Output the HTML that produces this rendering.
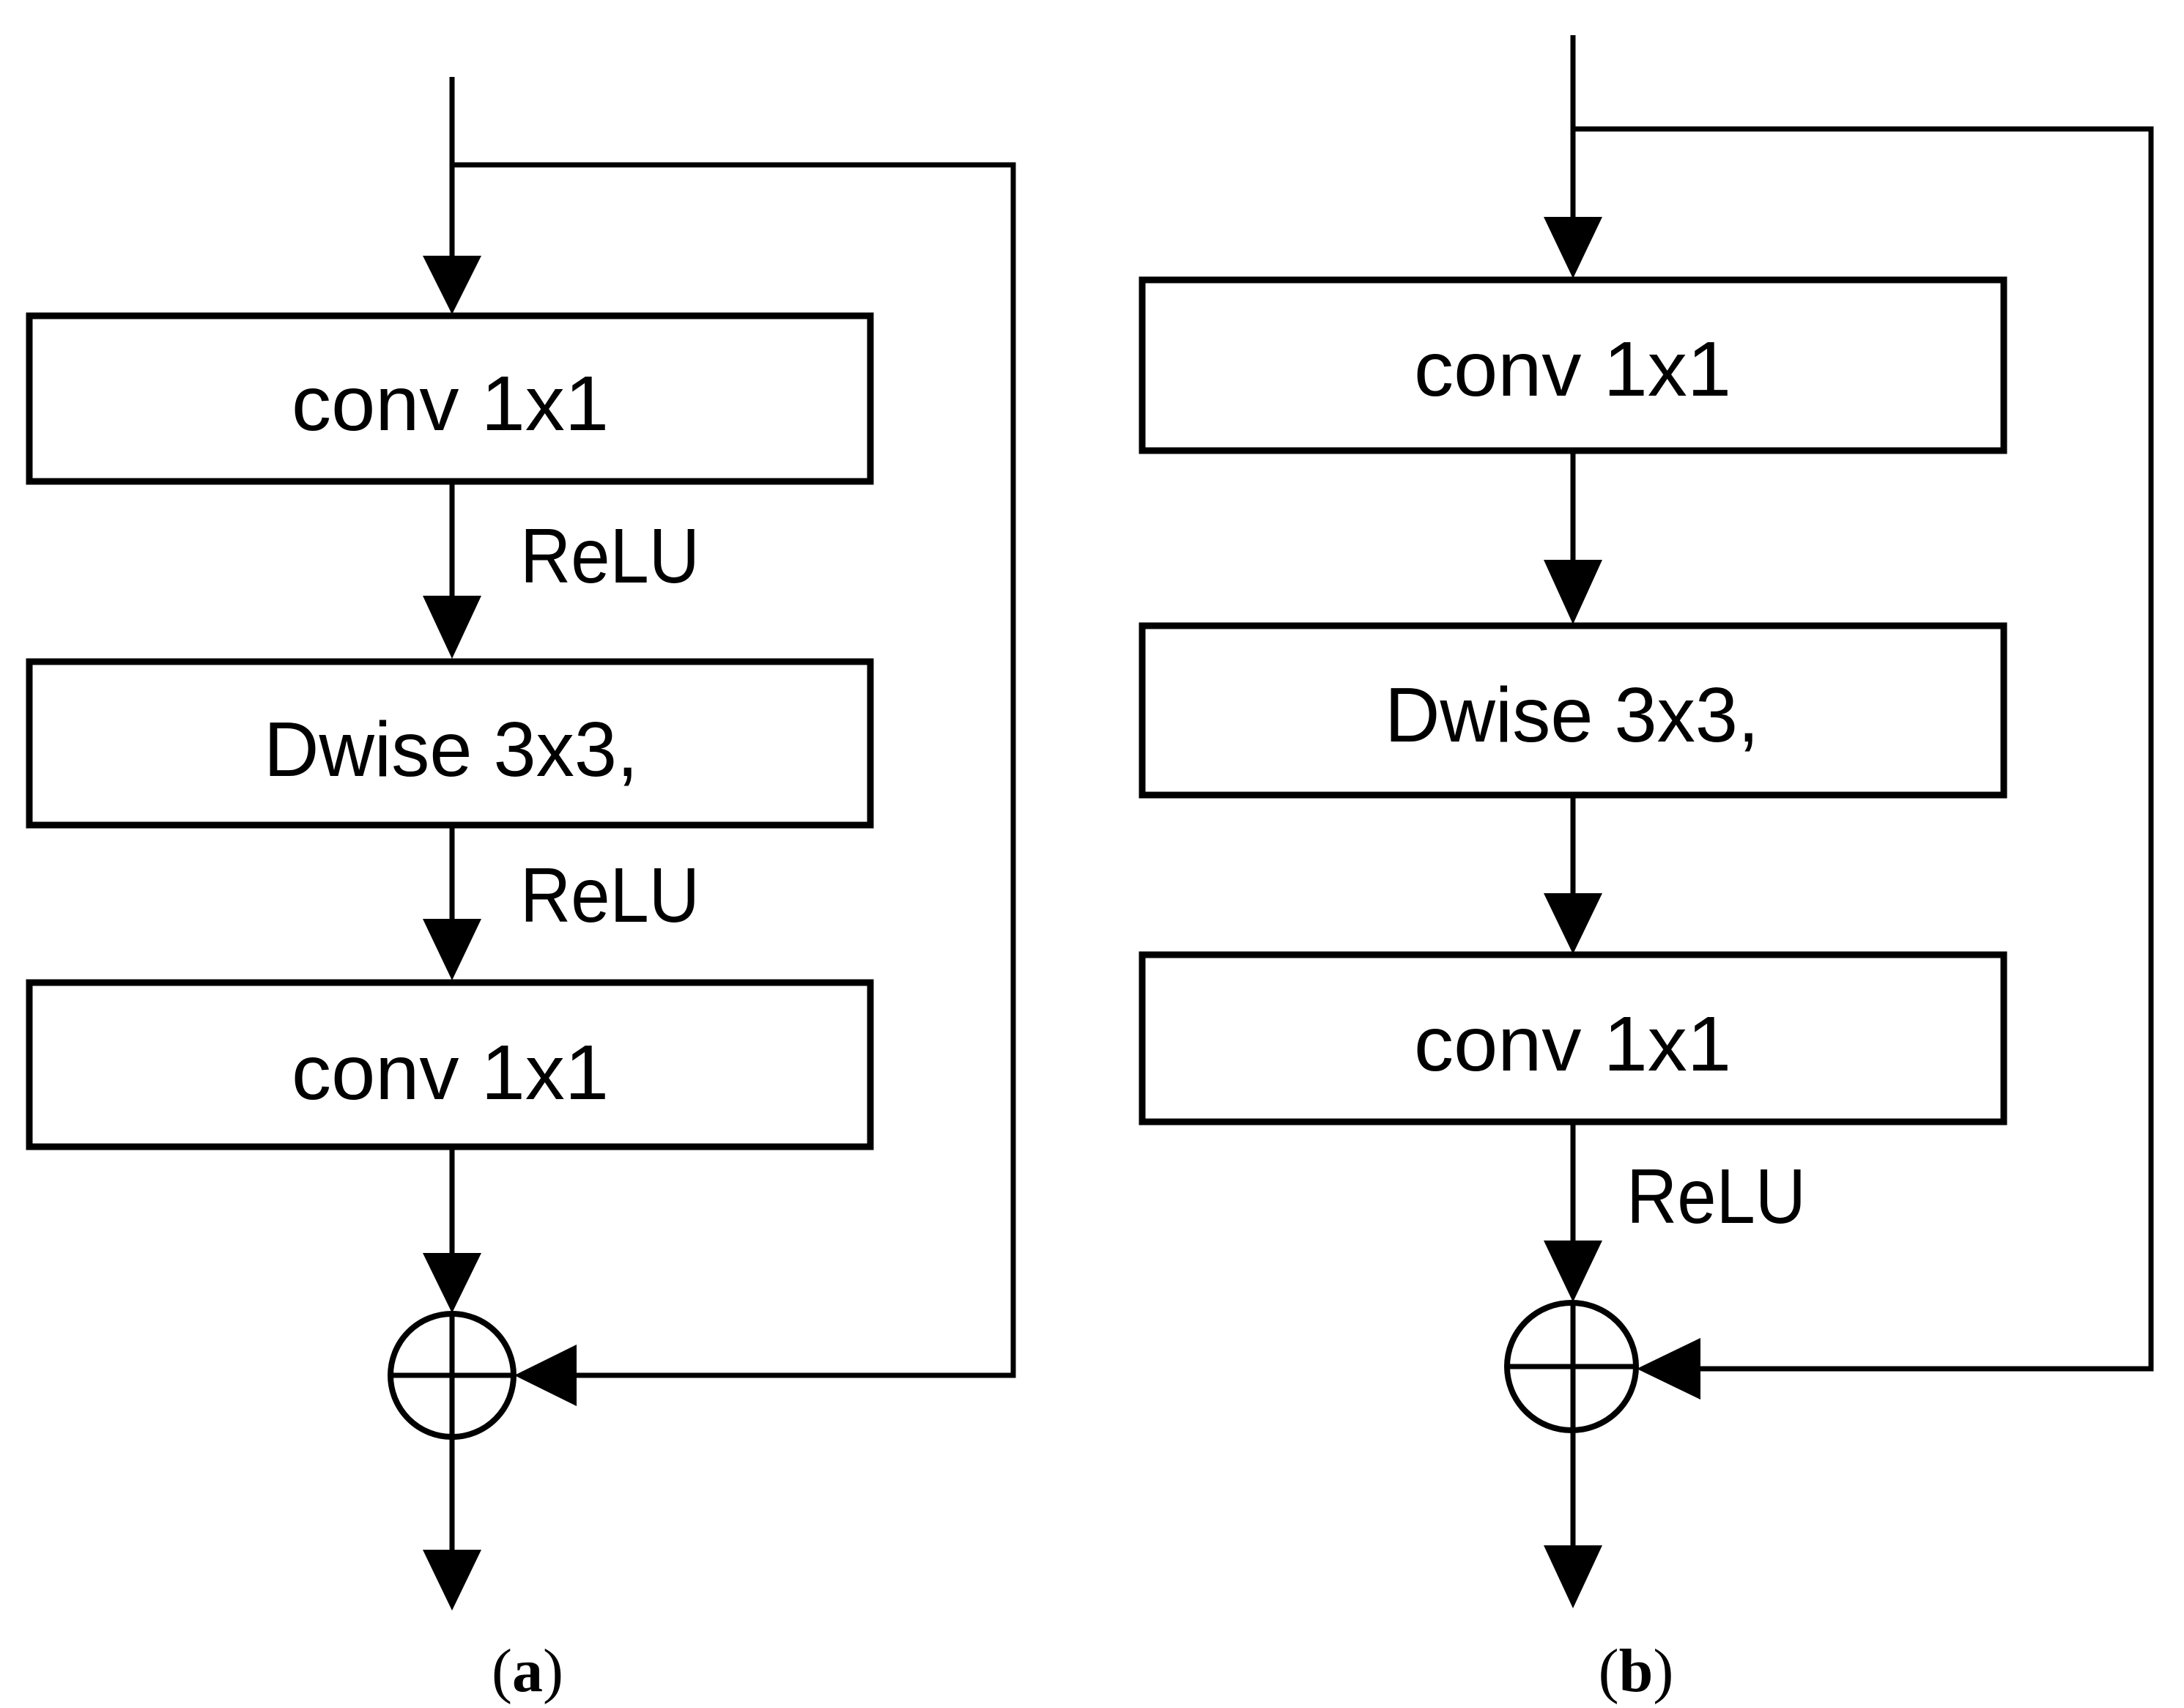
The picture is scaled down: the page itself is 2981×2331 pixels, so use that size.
<!DOCTYPE html>
<html><head><meta charset="utf-8"><style>html,body{margin:0;padding:0;background:#fff}svg{display:block}</style></head>
<body>
<svg width="2981" height="2331" viewBox="0 0 2981 2331" xmlns="http://www.w3.org/2000/svg">
<g stroke="#000" fill="none">
<!-- (a) -->
<path d="M617 105 V360 M617 225 H1383 V1877 H780" stroke-width="7"/>
<path d="M617 657 V830 M617 1126 V1270 M617 1565 V1720 M617 1961 V2130" stroke-width="7"/>
<rect x="40" y="431" width="1148" height="226" stroke-width="9"/>
<rect x="40" y="903" width="1148" height="223" stroke-width="9"/>
<rect x="40" y="1341" width="1148" height="224" stroke-width="9"/>
<ellipse cx="617" cy="1877" rx="84" ry="84" stroke-width="8"/>
<path d="M533 1877 H701 M617 1793 V1961" stroke-width="7"/>
<!-- (b) -->
<path d="M2147 48 V300 M2147 176 H2936 V1868 H2300" stroke-width="7"/>
<path d="M2147 615 V780 M2147 1085 V1230 M2147 1531 V1700 M2147 1952 V2120" stroke-width="7"/>
<rect x="1559" y="382" width="1176" height="233" stroke-width="9"/>
<rect x="1559" y="854" width="1176" height="231" stroke-width="9"/>
<rect x="1559" y="1303" width="1176" height="228" stroke-width="9"/>
<ellipse cx="2145" cy="1865" rx="88" ry="87" stroke-width="8"/>
<path d="M2057 1865 H2233 M2147 1778 V1952" stroke-width="7"/>
</g>
<g fill="#000">
<polygon points="577,349 657,349 617,429"/>
<polygon points="577,813 657,813 617,899"/>
<polygon points="577,1254 657,1254 617,1338"/>
<polygon points="577,1710 657,1710 617,1792"/>
<polygon points="577,2115 657,2115 617,2198"/>
<polygon points="787,1835 787,1919 702,1877"/>
<polygon points="2107,296 2187,296 2147,380"/>
<polygon points="2107,764 2187,764 2147,852"/>
<polygon points="2107,1219 2187,1219 2147,1302"/>
<polygon points="2107,1693 2187,1693 2147,1777"/>
<polygon points="2107,2109 2187,2109 2147,2195"/>
<polygon points="2321,1826 2321,1910 2234,1868"/>
</g>
<g font-family="'Liberation Sans', 'DejaVu Sans', sans-serif" font-size="106" fill="#000">
<text x="398" y="587" textLength="433" lengthAdjust="spacingAndGlyphs">conv 1x1</text>
<text x="710" y="795" textLength="245" lengthAdjust="spacingAndGlyphs">ReLU</text>
<text x="360" y="1059" textLength="511" lengthAdjust="spacingAndGlyphs">Dwise 3x3,</text>
<text x="710" y="1258" textLength="245" lengthAdjust="spacingAndGlyphs">ReLU</text>
<text x="398" y="1500" textLength="433" lengthAdjust="spacingAndGlyphs">conv 1x1</text>
<text x="1930" y="540" textLength="433" lengthAdjust="spacingAndGlyphs">conv 1x1</text>
<text x="1890" y="1012" textLength="511" lengthAdjust="spacingAndGlyphs">Dwise 3x3,</text>
<text x="1930" y="1461" textLength="433" lengthAdjust="spacingAndGlyphs">conv 1x1</text>
<text x="2220" y="1669" textLength="245" lengthAdjust="spacingAndGlyphs">ReLU</text>
</g>
<g font-family="'Liberation Serif', serif" font-size="84" fill="#000" text-anchor="middle">
<text x="720" y="2308">(<tspan font-weight="bold">a</tspan>)</text>
<text x="2233" y="2308">(<tspan font-weight="bold">b</tspan>)</text>
</g>
</svg>
</body></html>
